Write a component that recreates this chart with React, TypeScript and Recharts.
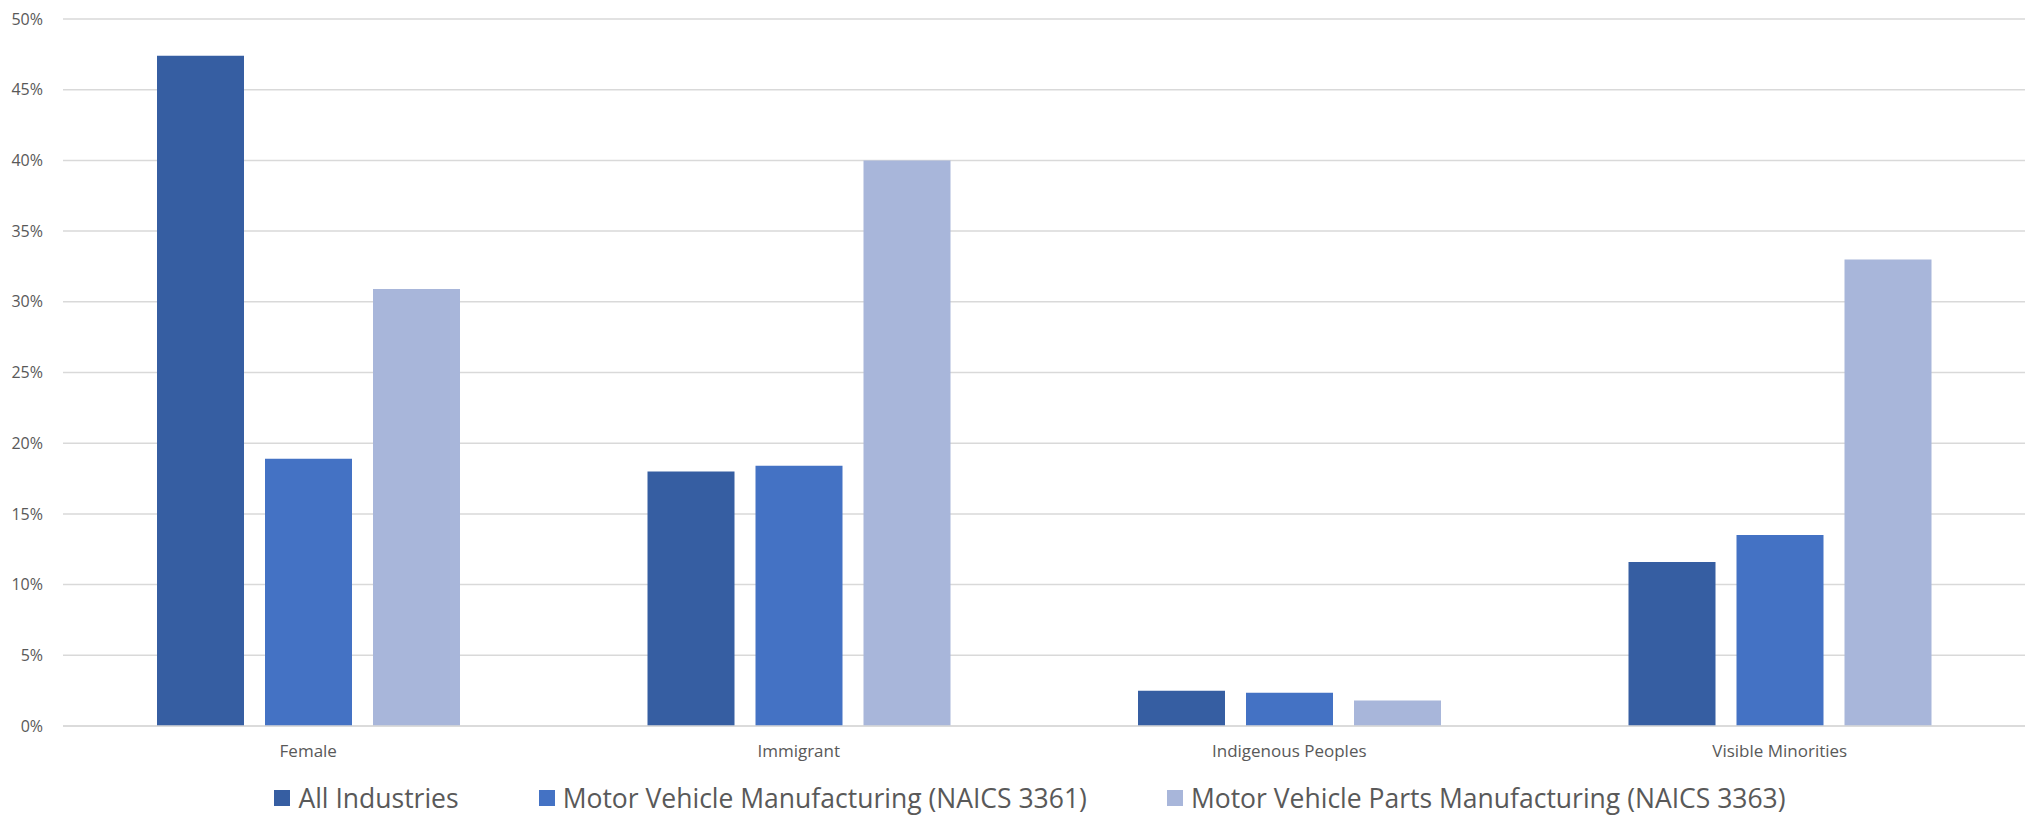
import { BarChart, Bar, XAxis, YAxis, CartesianGrid } from "recharts";

const categories = ["Female", "Immigrant", "Indigenous Peoples", "Visible Minorities"];
const allIndustries = [47.4, 18.0, 2.5, 11.6];
const motorVehicle = [18.9, 18.4, 2.35, 13.5];
const motorVehicleParts = [30.9, 40.0, 1.8, 33.0];
const yTicks = [0, 5, 10, 15, 20, 25, 30, 35, 40, 45, 50];

const series = [
  { key: "all", name: "All Industries", color: "#365EA2", values: allIndustries },
  { key: "mv", name: "Motor Vehicle Manufacturing (NAICS 3361)", color: "#4472C4", values: motorVehicle },
  { key: "parts", name: "Motor Vehicle Parts Manufacturing (NAICS 3363)", color: "#A8B6DA", values: motorVehicleParts },
];

const chartData = categories.map((c, i) => {
  const row: Record<string, string | number> = { category: c };
  series.forEach(s => { row[s.key] = s.values[i]; });
  return row;
});

const FONT = "'Open Sans', 'Noto Sans', sans-serif";

export default function App() {
  return (
    <div style={{ position: "absolute", left: 0, top: 0, width: 2034, height: 815, fontFamily: FONT, background: "#fff" }}>
      <BarChart
        width={2034}
        height={815}
        data={chartData}
        margin={{ top: 19, right: 9, left: 0, bottom: 59 }}
        barCategoryGap={94}
        barGap={21}
      >
        <CartesianGrid vertical={false} stroke="#d9d9d9" strokeWidth={1.5} />
        <XAxis
          dataKey="category"
          tickLine={false}
          axisLine={{ stroke: "#d9d9d9", strokeWidth: 1.5 }}
          tickSize={6}
          tickMargin={13}
          tick={{ fill: "#595959", fontSize: 17, fontFamily: FONT }}
          interval={0}
        />
        <YAxis
          domain={[0, 50]}
          ticks={yTicks}
          width={63}
          tickLine={false}
          axisLine={false}
          tickSize={6}
          tickMargin={14}
          tickFormatter={v => `${v}%`}
          tick={{ fill: "#595959", fontSize: 16, fontFamily: FONT }}
        />
        {series.map(s => (
          <Bar key={s.key} dataKey={s.key} name={s.name} fill={s.color} isAnimationActive={false} />
        ))}
      </BarChart>
      <div
        style={{
          position: "absolute",
          top: 782,
          left: 0,
          width: 2034,
          display: "flex",
          justifyContent: "center",
          paddingLeft: 26,
          boxSizing: "border-box",
          fontSize: 26.5,
          color: "#595959",
          lineHeight: "32px",
        }}
      >
        {series.map((s, i) => (
          <div key={s.key} style={{ display: "flex", alignItems: "center", marginLeft: i === 0 ? 0 : 80 }}>
            <span style={{ display: "inline-block", width: 16, height: 16, background: s.color, marginRight: 8 }} />
            <span>{s.name}</span>
          </div>
        ))}
      </div>
    </div>
  );
}
